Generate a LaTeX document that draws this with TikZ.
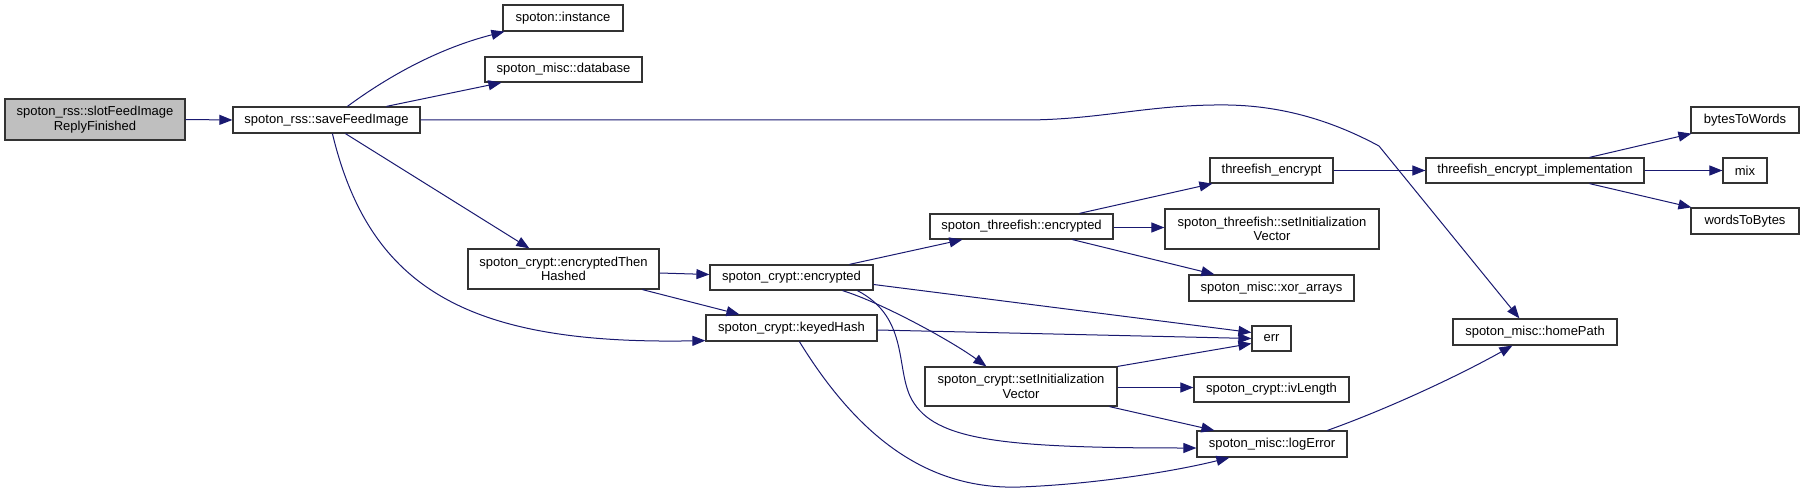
\documentclass[tikz,border=0pt]{standalone}
\usepackage{fontspec}
\setmainfont{Liberation Sans}
\usetikzlibrary{arrows.meta,calc}
\definecolor{edgec}{HTML}{191970}
\definecolor{boxc}{HTML}{333333}
\definecolor{greyfill}{HTML}{BFBFBF}
\begin{document}
\begin{tikzpicture}[x=1pt,y=-1pt,
  box/.style={draw=boxc,line width=1.2pt,fill=white,rectangle,inner sep=0pt,align=center,
    font=\fontsize{13}{14.7}\selectfont},
  edge/.style={draw=edgec,line width=1pt,-{Triangle[length=13pt,width=10pt]}}]
\useasboundingbox (0,0) rectangle (1804,492);
% nodes
\node[box,fill=greyfill,minimum width=180pt,minimum height=41pt] (slot) at (95,119.5) {spoton\_rss::slotFeedImage\\ReplyFinished};
\node[box,minimum width=187pt,minimum height=26pt] (save) at (326.5,120) {spoton\_rss::saveFeedImage};
\node[box,minimum width=120pt,minimum height=26pt] (inst) at (563,18) {spoton::instance};
\node[box,minimum width=157pt,minimum height=25pt] (db) at (563.5,69.5) {spoton\_misc::database};
\node[box,minimum width=191pt,minimum height=40pt] (eth) at (563.5,269) {spoton\_crypt::encryptedThen\\Hashed};
\node[box,minimum width=163pt,minimum height=25pt] (enc) at (791.5,277.5) {spoton\_crypt::encrypted};
\node[box,minimum width=171pt,minimum height=26pt] (kh) at (791.5,328) {spoton\_crypt::keyedHash};
\node[box,minimum width=183pt,minimum height=25pt] (tfenc) at (1021.5,226.5) {spoton\_threefish::encrypted};
\node[box,minimum width=192pt,minimum height=39pt] (csiv) at (1021,386.5) {spoton\_crypt::setInitialization\\Vector};
\node[box,minimum width=123pt,minimum height=25pt] (tfe) at (1271.5,170.5) {threefish\_encrypt};
\node[box,minimum width=214pt,minimum height=40pt] (tsiv) at (1272,229) {spoton\_threefish::setInitialization\\Vector};
\node[box,minimum width=165pt,minimum height=26pt] (xor) at (1271.5,288) {spoton\_misc::xor\_arrays};
\node[box,minimum width=39pt,minimum height=25pt] (err) at (1271.5,338.5) {err};
\node[box,minimum width=155pt,minimum height=25pt] (ivl) at (1271.5,389.5) {spoton\_crypt::ivLength};
\node[box,minimum width=150pt,minimum height=26pt] (log) at (1272,444) {spoton\_misc::logError};
\node[box,minimum width=218pt,minimum height=25pt] (impl) at (1535,170.5) {threefish\_encrypt\_implementation};
\node[box,minimum width=164pt,minimum height=26pt] (home) at (1535,332) {spoton\_misc::homePath};
\node[box,minimum width=108pt,minimum height=26pt] (btw) at (1745,120) {bytesToWords};
\node[box,minimum width=44pt,minimum height=25pt] (mix) at (1745,170.5) {mix};
\node[box,minimum width=108pt,minimum height=26pt] (wtb) at (1745,221) {wordsToBytes};
% edges
\draw[edge] (slot.east) -- (save.west);
\draw[edge] ($(save.north west)+(115,0)$) .. controls (390,75) and (440,48) .. ($(inst.south west)+(2,0)$);
\draw[edge] ($(save.north west)+(154,0)$) -- ($(db.south west)+(17,0)$);
\draw[edge] (save.east) -- (1024,120) .. controls (1100,120) and (1150,104) .. (1228,105)
  .. controls (1290,106) and (1340,125) .. (1379,146) -- ($(home.north west)+(67,0)$);
\draw[edge] ($(save.south west)+(113,0)$) -- ($(eth.north west)+(62,0)$);
\draw[edge] ($(save.south west)+(100,0)$) .. controls (370,290) and (470,345) .. ($(kh.south west)+(0,-1)$);
\draw[edge] ($(eth.east)+(0,4)$) -- ($(enc.west)+(0,-3)$);
\draw[edge] ($(eth.south west)+(175,0)$) -- ($(kh.north west)+(34,0)$);
\draw[edge] ($(enc.north west)+(140,0)$) -- ($(tfenc.south west)+(33,0)$);
\draw[edge] ($(enc.east)+(0,7)$) -- ($(err.west)+(0,-6)$);
\draw[edge] ($(enc.south west)+(133,0)$) .. controls (880,302) and (950,340) .. ($(csiv.north west)+(62,0)$);
\draw[edge] ($(enc.south west)+(148,0)$) .. controls (910,318) and (895,370) .. (912,400)
  .. controls (935,440) and (1000,448) .. ($(log.west)+(0,4)$);
\draw[edge] ($(kh.east)+(0,2)$) -- (err.west);
\draw[edge] ($(kh.south west)+(94,0)$) .. controls (860,440) and (930,490) .. (1020,487)
  .. controls (1100,484) and (1180,470) .. ($(log.south west)+(33,0)$);
\draw[edge] ($(tfenc.north west)+(150,0)$) -- ($(tfe.south west)+(3,0)$);
\draw[edge] ($(tfenc.east)+(0,1)$) -- ($(tsiv.west)+(0,-1.5)$);
\draw[edge] ($(tfenc.south west)+(143,0)$) -- ($(xor.north west)+(26,0)$);
\draw[edge] (tfe.east) -- (impl.west);
\draw[edge] ($(impl.north west)+(164,0)$) -- ($(btw.south west)+(1,0)$);
\draw[edge] (impl.east) -- (mix.west);
\draw[edge] ($(impl.south west)+(164,0)$) -- ($(wtb.north west)+(1,0)$);
\draw[edge] (csiv.north east) -- ($(err.west)+(0,5)$);
\draw[edge] ($(csiv.east)+(0,1)$) -- ($(ivl.west)+(0,-2)$);
\draw[edge] ($(csiv.south west)+(185,0)$) -- ($(log.north west)+(18,0)$);
\draw[edge] ($(log.north west)+(131,0)$) .. controls (1390,408) and (1460,375) .. ($(home.south west)+(60,0)$);
\end{tikzpicture}
\end{document}
